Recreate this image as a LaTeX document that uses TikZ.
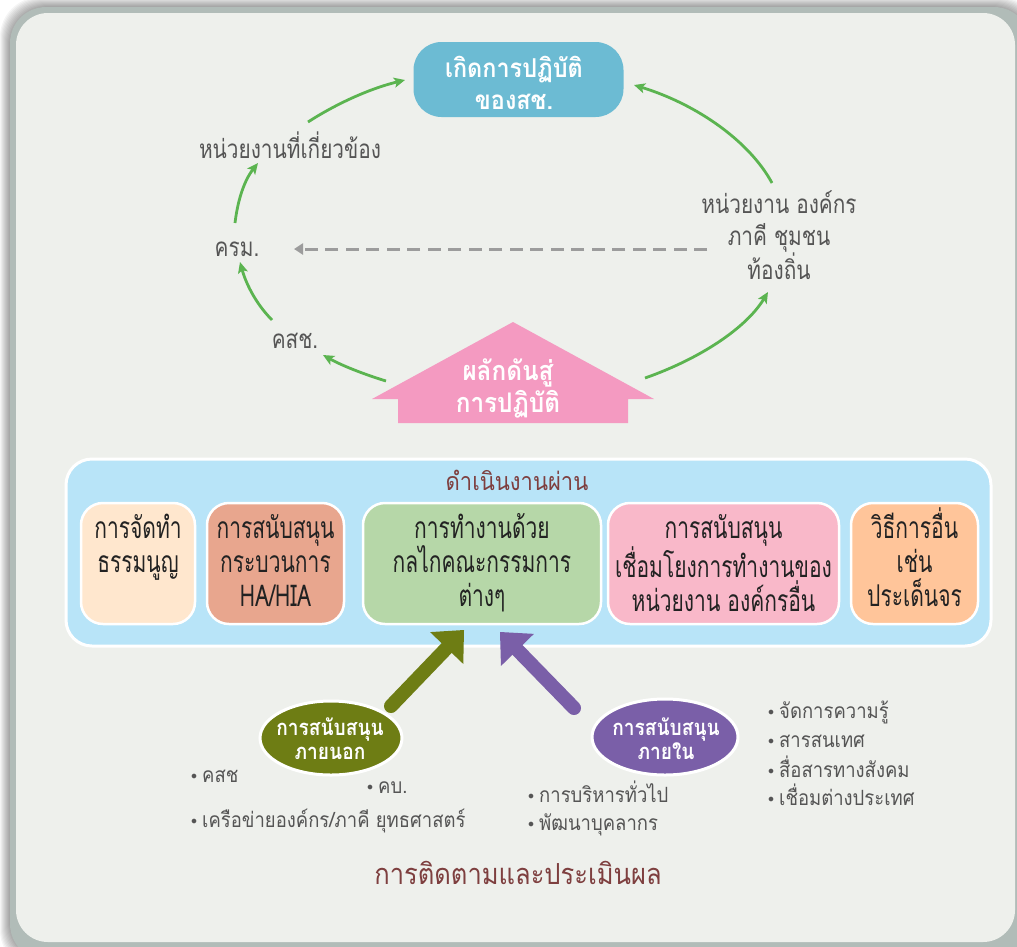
\documentclass[tikz,border=0pt]{standalone}
\usepackage{fontspec}
\setmainfont[Script=Thai]{Loma}
\newfontfamily\lblfont[Script=Thai,FakeStretch=0.8]{Loma}
\newfontfamily\boxfont[Script=Thai,FakeStretch=0.7]{Loma}
\newfontfamily\bulfont[Script=Thai,FakeStretch=0.88]{Loma}
\newfontfamily\headfont[Script=Thai,FakeStretch=0.88]{Loma}
\newfontfamily\heavyfont[Script=Thai,FakeStretch=0.9]{Loma}
\newfontfamily\bubfont[Script=Thai,FakeStretch=0.87]{Loma}
\usetikzlibrary{arrows.meta,shapes.geometric,calc}

\definecolor{cardbg}{HTML}{EEF0EC}
\definecolor{cardedge}{HTML}{B1BCB8}
\definecolor{goalblue}{HTML}{6CBBD3}
\definecolor{arrowgreen}{HTML}{5BB450}
\definecolor{housepink}{HTML}{F49AC1}
\definecolor{labelgray}{HTML}{555555}
\definecolor{dashgray}{HTML}{9C9C9C}
\definecolor{panelblue}{HTML}{B8E4F8}
\definecolor{boxA}{HTML}{FFE7CE}
\definecolor{boxB}{HTML}{E8A68E}
\definecolor{boxC}{HTML}{B6D7A8}
\definecolor{boxD}{HTML}{F9B8C9}
\definecolor{boxE}{HTML}{FFC59A}
\definecolor{boxtext}{HTML}{222222}
\definecolor{olivec}{HTML}{6E7D14}
\definecolor{purplec}{HTML}{7A5FA8}
\definecolor{maroon}{HTML}{7E3F3F}

% strut that fixes the height of a first line
\newcommand\firstln[1]{\rule{0pt}{#1}}
\newcommand\bulletmark{\raisebox{3pt}{\fontsize{13}{13}\selectfont$\bullet$}\hspace{5pt}}

\begin{document}
\begin{tikzpicture}[x=1pt,y=-1pt,
  lbl/.style={font=\lblfont\fontsize{26}{32}\selectfont,text=labelgray,inner sep=0pt,align=center},
  conn/.style={draw=arrowgreen,line width=2.8pt,-{Stealth[length=11pt,width=10pt,inset=2.5pt]}},
  dashconn/.style={draw=dashgray,line width=3pt,dash pattern=on 13pt off 7.5pt,-{Triangle[length=9pt,width=11pt,sep=12pt]}},
  whitebold/.style={font=\heavyfont\bfseries\fontsize{26}{32}\selectfont,text=white,inner sep=0pt,align=center},
  stepbox/.style={draw=white,line width=2.5pt,rounded corners=22pt,inner sep=0pt,outer sep=0pt,minimum height=121pt},
  boxtxt/.style={font=\boxfont\fontsize{30}{34}\selectfont,text=boxtext,inner sep=0pt,align=center,anchor=north},
  bubble/.style={ellipse,draw=white,line width=3pt,inner sep=0pt,outer sep=0pt},
  bubtxt/.style={font=\bubfont\bfseries\fontsize{22}{24.5}\selectfont,text=white,inner sep=0pt,align=center,anchor=north},
  bigarrow/.style={line width=14pt,line cap=round,-{Triangle[length=25pt,width=46pt,line width=0pt]}},
  item/.style={font=\bulfont\fontsize{21}{24}\selectfont,text=labelgray,inner sep=0pt,anchor=base west},
  headtxt/.style={font=\headfont\fontsize{25}{30}\selectfont,text=maroon,inner sep=0pt,anchor=base}
]
\useasboundingbox (0,0) rectangle (1017,946);
\clip (0,0) rectangle (1017,946);
\fill[white] (0,0) rectangle (1017,946);

% soft shadow and card
\foreach \k in {1,...,10}{
  \fill[black,opacity=0.04,rounded corners=40pt] ({10-\k},{7-\k}) rectangle ({1030+\k},{960+\k});
}
\fill[cardedge,rounded corners=36pt] (10,7) rectangle (1030,960);
\fill[cardbg,rounded corners=32pt] (16,13) rectangle (1015,942);

% goal box
\node[fill=goalblue,rounded corners=28pt,minimum width=210pt,minimum height=75pt,inner sep=0pt,outer sep=0pt] (goal) at (518.5,79.5) {};
\node[whitebold,anchor=north] (goalT) at (514,45) {\firstln{32pt}เกิดการปฏิบัติ\\ของสช.};

% cycle labels
\node[lbl,anchor=base] (rel) at (290,158) {หน่วยงานที่เกี่ยวข้อง};
\node[lbl,anchor=base] (krm) at (237,256) {ครม.};
\node[lbl,anchor=base] (ksc) at (295,348) {คสช.};
\node[lbl,anchor=north] (org) at (779,181) {\firstln{32pt}หน่วยงาน องค์กร\\ภาคี ชุมชน\\ท้องถิ่น};

% house-shaped push arrow
\fill[housepink] (372,399) -- (513,322) -- (654,399) -- (628,399) -- (628,423) -- (398,423) -- (398,399) -- cycle;
\node[whitebold,anchor=north,font=\heavyfont\bfseries\fontsize{27}{32}\selectfont] (push) at (508,348) {\firstln{32pt}ผลักดันสู่\\การปฏิบัติ};
\coordinate (houseL) at (386,381);
\coordinate (houseR) at (645,378);

% cycle connectors
\draw[conn] (houseL) .. controls +(-22.6,-6.9) and +(18.6,10.4) .. ($(ksc.base)+(28,7)$);
\draw[conn] ($(ksc.base)+(-23,-28)$) .. controls +(-17.2,-17.4) and +(5.5,20) .. ($(krm.base)+(3,6)$);
\draw[conn] ($(krm.base)+(-2,-33)$) .. controls +(2.4,-20.4) and +(-14.6,18.5) .. ($(rel.base)+(-32,5)$);
\draw[conn] ($(rel.base)+(18,-36)$) .. controls +(26.9,-17.4) and +(-36.5,8.9) .. ($(goal.west)+(-8.5,0.5)$);
\draw[conn] (houseR) .. controls +(54.9,-19.2) and +(-21.7,36) .. ($(org.north)+(-11,111)$);
\draw[conn] ($(org.north)+(-7,2)$) .. controls +(-22.1,-41.1) and +(63.8,19.6) .. ($(goal.east)+(10.5,5.5)$);
\draw[dashconn] ($(org.north)+(-72,68)$) -- ($(krm.base)+(45,-7)$);

% working channels panel
\node[fill=panelblue,draw=white,line width=3pt,rounded corners=26pt,minimum width=925pt,minimum height=187pt,inner sep=0pt,outer sep=0pt] (panel) at (528.5,552.5) {};
\node[headtxt] (head) at (517,490) {ดำเนินงานผ่าน};

\node[stepbox,fill=boxA,minimum width=114pt] (charter) at (138,563.5) {};
\node[stepbox,fill=boxB,minimum width=137pt] (hia) at (275.5,563.5) {};
\node[stepbox,fill=boxC,minimum width=238pt] (mech) at (482,563.5) {};
\node[stepbox,fill=boxD,minimum width=231pt] (link) at (723.5,563.5) {};
\node[stepbox,fill=boxE,minimum width=127pt] (other) at (914.5,563.5) {};

\node[boxtxt] (charterT) at (138,506) {\firstln{32pt}การจัดทำ\\ธรรมนูญ};
\node[boxtxt] (hiaT) at (275.5,506) {\firstln{32pt}การสนับสนุน\\กระบวนการ\\HA/HIA};
\node[boxtxt] (mechT) at (482,506) {\firstln{32pt}การทำงานด้วย\\กลไกคณะกรรมการ\\ต่างๆ};
\node[boxtxt] (linkT) at (723.5,506) {\firstln{32pt}การสนับสนุน\\เชื่อมโยงการทำงานของ\\หน่วยงาน องค์กรอื่น};
\node[boxtxt] (otherT) at (914.5,506) {\firstln{32pt}วิธีการอื่น\\เช่น\\ประเด็นจร};

% support bubbles
\node[bubble,fill=olivec,minimum width=142pt,minimum height=74pt] (ext) at (331,738) {};
\node[bubtxt] (extT) at (330,703) {\firstln{32pt}การสนับสนุน\\ภายนอก};
\node[bubble,fill=purplec,minimum width=146pt,minimum height=76pt] (int) at (665,737) {};
\node[bubtxt] (intT) at (666,703) {\firstln{32pt}การสนับสนุน\\ภายใน};

\draw[bigarrow,draw=olivec,fill=olivec] ($(ext.center)+(60,-32)$) -- ($(mech.south)+(-18,6)$);
\draw[bigarrow,draw=purplec,fill=purplec] ($(int.center)+(-91,-29)$) -- ($(mech.south)+(18,8)$);

% support items
\node[item] (i1) at (191,782) {\bulletmark คสช};
\node[item] (i2) at (367,793) {\bulletmark คบ.};
\node[item] (i3) at (191,827) {\bulletmark เครือข่ายองค์กร/ภาคี ยุทธศาสตร์};
\node[item] (i4) at (528,802) {\bulletmark การบริหารทั่วไป};
\node[item] (i5) at (528,830) {\bulletmark พัฒนาบุคลากร};
\node[item] (i6) at (768,718) {\bulletmark จัดการความรู้};
\node[item] (i7) at (768,747) {\bulletmark สารสนเทศ};
\node[item] (i8) at (768,777) {\bulletmark สื่อสารทางสังคม};
\node[item] (i9) at (768,805) {\bulletmark เชื่อมต่างประเทศ};

% evaluation title
\node[headtxt,font=\headfont\fontsize{29}{34}\selectfont] (eval) at (518,884) {การติดตามและประเมินผล};
\end{tikzpicture}
\end{document}
